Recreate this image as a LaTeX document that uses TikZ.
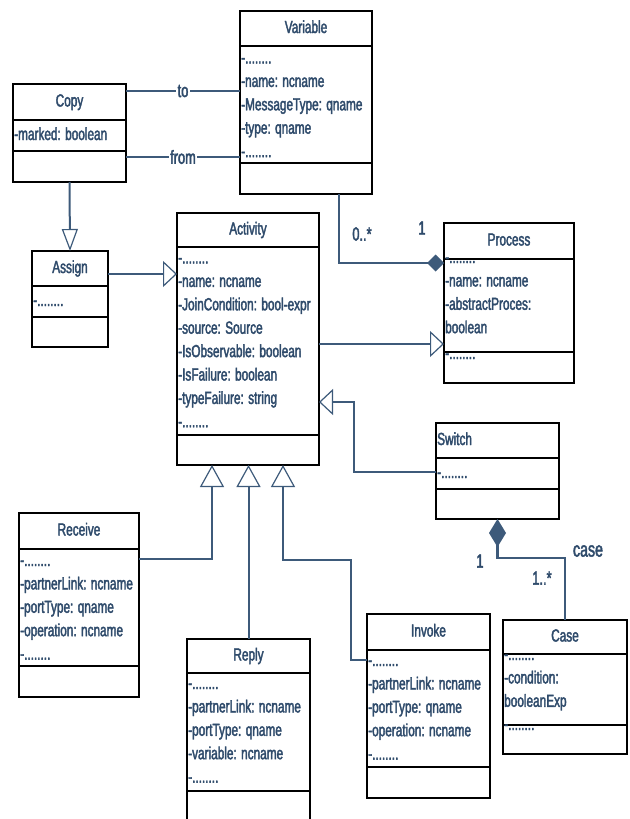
\documentclass[tikz,border=0pt]{standalone}
\usepackage{fontspec}
\setmainfont{Liberation Sans}[FakeStretch=0.675, FakeBold=2.2]
\usetikzlibrary{arrows.meta}
\definecolor{txt}{HTML}{2F4B6B}
\definecolor{lnk}{HTML}{3D5A7A}
\tikzset{
 classbox/.style={draw=black, line width=1.4pt, inner sep=0pt, outer sep=0pt, anchor=north west},
 sep/.style={draw=black, line width=1.4pt},
 title/.style={text=txt, font=\fontsize{17.5}{18}\selectfont, inner sep=0pt, text height=12.5pt, text depth=3.5pt},
 attr/.style={text=txt, font=\fontsize{17.5}{18}\selectfont, anchor=base west, inner sep=0pt},
 lbl/.style={text=txt, font=\fontsize{19}{20}\selectfont, inner sep=1.5pt},
 assoc/.style={draw=lnk, line width=2.6pt},
 gen/.style={draw=lnk, line width=2pt},
 gtip/.style={-{Triangle[fill=white, length=14pt, width=26pt, line width=1.2pt]}},
 vtip/.style={-{Triangle[fill=white, length=22pt, width=24pt, line width=1.2pt]}},
}
\newcommand\dts{-........}
\newcommand\umlclass[8]{%
 \node[classbox, minimum width={(#4-#2)*1pt}, minimum height={(#5-#3)*1pt}] (#1) at (#2,#3) {};
 \draw[sep] (#2,#6) -- (#4,#6);
 \draw[sep] (#2,#7) -- (#4,#7);
 \node[title] (#1-t) at ({(#2+#4)/2},{(#3+#6)/2}) {#8};
}
\newcommand\attrlist[4]{%
 \foreach \t [count=\i] in {#4} \node[attr] (#1-\i) at (#2, {#3+(\i-1)*23.4}) {\t};
}
\begin{document}
\begin{tikzpicture}[x=1pt, y=-1pt]
\useasboundingbox (0,0) rectangle (629,819);
\clip (0,0) rectangle (629,819);

% classes
\umlclass{variable}{240}{11}{372}{194}{46}{163}{Variable}
\attrlist{variable-a}{241}{63.5}{\dts, -name: ncname, -MessageType: qname, -type: qname, \dts}

\umlclass{copy}{13}{84}{126}{182}{120}{151}{Copy}
\attrlist{copy-a}{14}{140}{-marked: boolean}

\umlclass{assign}{32}{251}{108}{347}{286}{317}{Assign}
\attrlist{assign-a}{33}{306}{\dts}

\umlclass{activity}{177}{213}{319}{465}{247}{435}{Activity}
\attrlist{activity-a}{178}{263.5}{\dts, -name: ncname, -JoinCondition: bool-expr, -source: Source, -IsObservable: boolean, -IsFailure: boolean, -typeFailure: string, \dts}

\umlclass{process}{444}{223}{574}{383}{259}{352}{Process}
\attrlist{process-a}{445}{263}{\dts, -name: ncname, -abstractProces:, boolean}
\attrlist{process-o}{445}{359}{\dts}

\umlclass{switch}{436}{423}{559}{519}{458}{489}{}
\node[title, anchor=west] (switch-title) at (437,440.5) {Switch};
\attrlist{switch-a}{437}{478}{\dts}

\umlclass{case}{503}{620}{627}{754}{654}{725}{Case}
\attrlist{case-a}{504}{660}{\dts, -condition:, booleanExp}
\attrlist{case-o}{504}{730}{\dts}

\umlclass{receive}{19}{513}{139}{697}{549}{666}{Receive}
\attrlist{receive-a}{20}{566}{\dts, -partnerLink: ncname, -portType: qname, -operation: ncname, \dts}

\umlclass{reply}{187}{639}{310}{824}{673}{791}{Reply}
\attrlist{reply-a}{188}{689}{\dts, -partnerLink: ncname, -portType: qname, -variable: ncname, \dts}

\umlclass{invoke}{367}{614}{490}{798}{650}{767}{Invoke}
\attrlist{invoke-a}{368}{666}{\dts, -partnerLink: ncname, -portType: qname, -operation: ncname, \dts}

% connectors
\draw[assoc] (copy.east |- 0,91) -- node[lbl, fill=white] (to-l) {to} (variable.west |- 0,91);
\draw[assoc] (copy.east |- 0,157) -- node[lbl, fill=white] (from-l) {from} (variable.west |- 0,157);

\draw[gen, -{Triangle[fill=white, length=22pt, width=16pt, line width=1.2pt]}] (copy.south) -- (assign.north);
\draw[assoc, gtip] (assign.east |- 0,274) -- (activity.west |- 0,274);

\draw[assoc, -{Diamond[length=17pt, width=17pt]}] (variable.south -| 339,0) -- (339,263) -- (process.west |- 0,263);
\node[lbl] (mult-var) at (362,234) {0..*};
\node[lbl] (mult-proc) at (422,228) {1};

\draw[assoc, gtip] (activity.east |- 0,344) -- (process.west |- 0,344);

\draw[assoc, gtip] (switch.west |- 0,472) -- (354,472) -- (354,402) -- (activity.east |- 0,402);

\draw[assoc, {Diamond[length=28pt, width=17pt]}-] (switch.south) -- (497.5,558) -- (565,558) -- (case.north);
\node[lbl] (mult-sw) at (480,561) {1};
\node[lbl, font=\fontsize{21}{22}\selectfont] (case-l) at (588,551) {case};
\node[lbl] (mult-case) at (542,578) {1..*};

\draw[gen, vtip] (receive.east |- 0,559) -- (212,559) -- (activity.south -| 212,0);
\draw[gen, vtip] (reply.north) -- (reply.north |- activity.south);
\draw[gen, vtip] (invoke.west |- 0,660) -- (351,660) -- (351,560) -- (283,560) -- (activity.south -| 283,0);
\end{tikzpicture}
\end{document}
